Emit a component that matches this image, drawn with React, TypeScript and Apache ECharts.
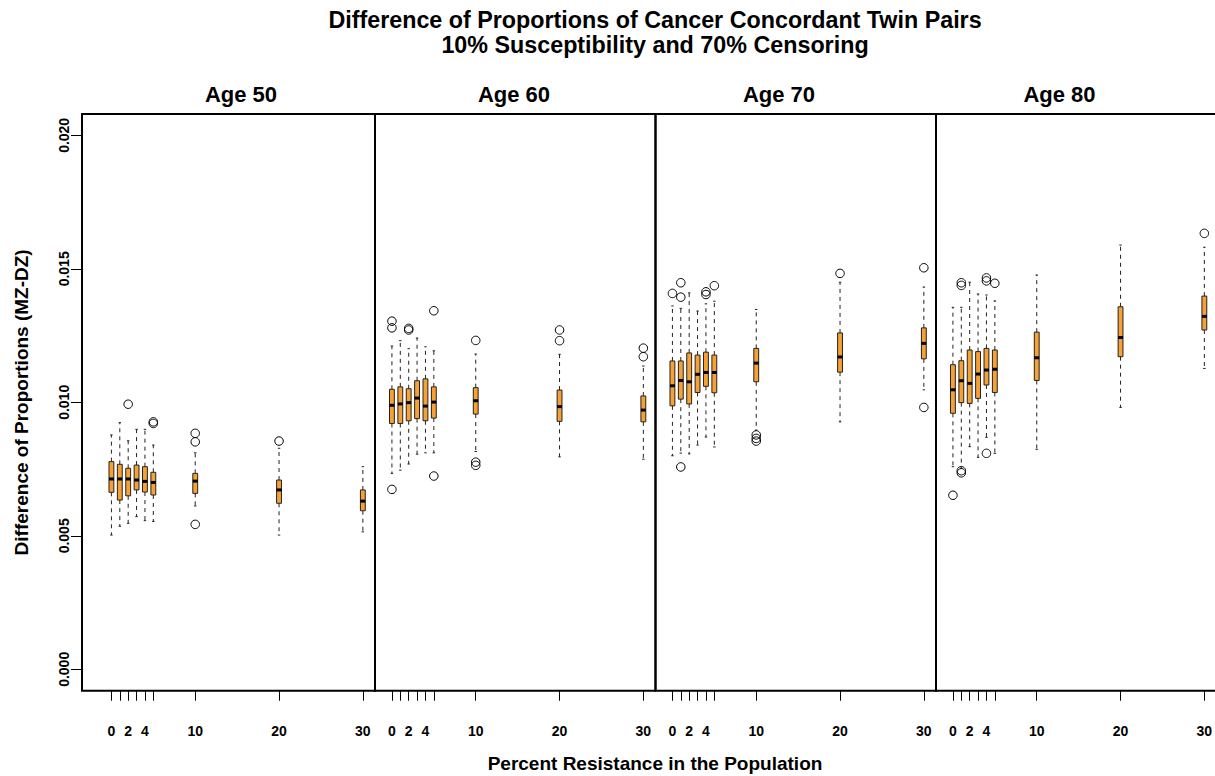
import React, { useEffect, useRef } from "react";
import * as echarts from "echarts";

// ---------- data ----------
const positions = [0, 1, 2, 3, 4, 5, 10, 20, 30];
const xTickValues = [0, 1, 2, 3, 4, 5, 10, 20, 30];
const xLabelValues = [0, 2, 4, 10, 20, 30];
const yTickValues = [0, 0.005, 0.01, 0.015, 0.02];
const panelNames = ["Age 50", "Age 60", "Age 70", "Age 80"];

// [lower whisker, Q1, median, Q3, upper whisker] per position
const age50Stats = [
  [0.00503, 0.00663, 0.00713, 0.00778, 0.00878],
  [0.00536, 0.00634, 0.00713, 0.00768, 0.00924],
  [0.00547, 0.0065, 0.00713, 0.00753, 0.00856],
  [0.00572, 0.00672, 0.00709, 0.00765, 0.00899],
  [0.00557, 0.00664, 0.00704, 0.00759, 0.00899],
  [0.00554, 0.00653, 0.007, 0.00738, 0.0084],
  [0.00612, 0.00659, 0.00705, 0.00734, 0.00811],
  [0.00503, 0.00622, 0.00672, 0.00709, 0.00828],
  [0.00515, 0.00594, 0.0063, 0.00672, 0.00759],
];
const age60Stats = [
  [0.00734, 0.00921, 0.00989, 0.01049, 0.01211],
  [0.00746, 0.00921, 0.00994, 0.01058, 0.01231],
  [0.00769, 0.00931, 0.00999, 0.01051, 0.01201],
  [0.00806, 0.00939, 0.01016, 0.01081, 0.01241],
  [0.00811, 0.00931, 0.00986, 0.01088, 0.01208],
  [0.00811, 0.00941, 0.01001, 0.01058, 0.01193],
  [0.00816, 0.00956, 0.01006, 0.01055, 0.01181],
  [0.00796, 0.00929, 0.00984, 0.01046, 0.0118],
  [0.00787, 0.00927, 0.00971, 0.01024, 0.01136],
];
const age70Stats = [
  [0.008, 0.00987, 0.01062, 0.01155, 0.01361],
  [0.0081, 0.01012, 0.01082, 0.01155, 0.01352],
  [0.00807, 0.00994, 0.01077, 0.01185, 0.0141],
  [0.0084, 0.01037, 0.01105, 0.01177, 0.01342],
  [0.0087, 0.0106, 0.01112, 0.01188, 0.01369],
  [0.00833, 0.01036, 0.01112, 0.01177, 0.01379],
  [0.00896, 0.01077, 0.01147, 0.01202, 0.01348],
  [0.00927, 0.01113, 0.0117, 0.0126, 0.0145],
  [0.01047, 0.01163, 0.01221, 0.01279, 0.01432],
];
const age80Stats = [
  [0.00759, 0.00959, 0.01047, 0.01141, 0.01356],
  [0.00753, 0.00999, 0.01081, 0.01156, 0.01356],
  [0.00834, 0.00996, 0.01071, 0.01196, 0.0145],
  [0.00794, 0.01015, 0.01106, 0.0119, 0.01406],
  [0.00869, 0.01065, 0.01121, 0.01202, 0.01402],
  [0.00809, 0.01037, 0.01124, 0.01196, 0.0138],
  [0.00824, 0.01082, 0.01167, 0.01263, 0.01477],
  [0.00981, 0.01171, 0.01243, 0.01358, 0.01589],
  [0.01127, 0.01271, 0.01322, 0.01398, 0.01581],
];

// [position, value]
const age50Outliers = [
  [2, 0.00993], [5, 0.00927], [5, 0.00921], [10, 0.00884], [10, 0.00852], [10, 0.00543], [20, 0.00855],
];
const age60Outliers = [
  [0, 0.01304], [0, 0.01279], [0, 0.00674], [2, 0.01277], [2, 0.01271], [5, 0.01343], [5, 0.00724],
  [10, 0.01232], [10, 0.00776], [10, 0.00764], [20, 0.01271], [20, 0.01231], [30, 0.01203], [30, 0.01171],
];
const age70Outliers = [
  [0, 0.01408], [1, 0.01448], [1, 0.01394], [1, 0.00758], [4, 0.01414], [4, 0.01404], [5, 0.01437],
  [10, 0.00878], [10, 0.00865], [10, 0.00855], [20, 0.01483], [30, 0.01504], [30, 0.00981],
];
const age80Outliers = [
  [0, 0.00652], [1, 0.01448], [1, 0.01438], [1, 0.00744], [1, 0.00736], [4, 0.01466], [4, 0.01455],
  [4, 0.00809], [5, 0.01446], [30, 0.01633],
];

const allStats = [age50Stats, age60Stats, age70Stats, age80Stats];
const allOutliers = [age50Outliers, age60Outliers, age70Outliers, age80Outliers];

// ---------- layout / style ----------
const FONT = "'Liberation Sans', Arial, Helvetica, sans-serif";
const BOX_FILL = "#F7A033";
const BOX_WIDTH = 0.58;
const gridLefts = [82, 375, 655.5, 936];
const gridWidths = [293, 280.5, 280.5, 280.5];
const xMins = [-3.51, -2.02, -2.02, -2.02];
const X_MAX = 31.45;
const Y_MIN = -0.0008;
const Y_MAX = 0.0208;
const GRID_TOP = 114;
const GRID_HEIGHT = 576.7;
const panelLabelX = [241, 514, 779, 1059.5];

const renderBox = (params: any, api: any) => {
  const x = api.value(0);
  const pLo = api.coord([x, api.value(1)]);
  const pQ1 = api.coord([x, api.value(2)]);
  const pMd = api.coord([x, api.value(3)]);
  const pQ3 = api.coord([x, api.value(4)]);
  const pHi = api.coord([x, api.value(5)]);
  const w = api.size([BOX_WIDTH, 0])[0];
  const cx = pMd[0];
  const half = w / 2;
  const sh = w / 4;
  const ls = { stroke: "#222", lineWidth: 1 };
  return {
    type: "group",
    children: [
      { type: "line", shape: { x1: cx, y1: pQ3[1], x2: cx, y2: pHi[1] }, style: { ...ls, lineDash: [4, 4] } },
      { type: "line", shape: { x1: cx, y1: pQ1[1], x2: cx, y2: pLo[1] }, style: { ...ls, lineDash: [4, 4] } },
      { type: "line", shape: { x1: cx - sh, y1: pHi[1], x2: cx + sh, y2: pHi[1] }, style: ls },
      { type: "line", shape: { x1: cx - sh, y1: pLo[1], x2: cx + sh, y2: pLo[1] }, style: ls },
      {
        type: "rect",
        shape: { x: cx - half, y: pQ3[1], width: w, height: pQ1[1] - pQ3[1] },
        style: { fill: BOX_FILL, stroke: "#222", lineWidth: 1 },
      },
      { type: "line", shape: { x1: cx - half, y1: pMd[1], x2: cx + half, y2: pMd[1] }, style: { stroke: "#000", lineWidth: 3 } },
    ],
  };
};

function buildOption() {
  const grids = gridLefts.map((l, i) => ({
    left: l,
    top: GRID_TOP,
    width: gridWidths[i],
    height: GRID_HEIGHT,
    show: true,
    borderColor: "#000",
    borderWidth: 2,
    backgroundColor: "transparent",
    containLabel: false,
    outerBoundsMode: "none",
  }));
  const xAxes = gridLefts.map((_, i) => ({
    type: "value",
    gridIndex: i,
    position: "bottom",
    min: xMins[i],
    max: X_MAX,
    axisLine: { show: false, onZero: false },
    splitLine: { show: false },
    axisTick: { show: true, inside: false, length: 10, customValues: xTickValues, lineStyle: { color: "#000", width: 1 } },
    axisLabel: {
      show: true,
      customValues: xLabelValues,
      margin: 33,
      fontSize: 14,
      lineHeight: 14,
      fontWeight: "bold",
      color: "#000",
      fontFamily: FONT,
      formatter: (v: number) => String(v),
    },
  }));
  const yAxes = gridLefts.map((_, i) =>
    i === 0
      ? {
          type: "value",
          gridIndex: 0,
          position: "left",
          min: Y_MIN,
          max: Y_MAX,
          axisLine: { show: false, onZero: false },
          splitLine: { show: false },
          axisTick: { show: true, inside: false, length: 11, customValues: yTickValues, lineStyle: { color: "#000", width: 1 } },
          axisLabel: {
            show: true,
            customValues: yTickValues,
            rotate: 90,
            margin: 11,
            fontSize: 14,
            lineHeight: 14,
            fontWeight: "bold",
            color: "#000",
            fontFamily: FONT,
            formatter: (v: number) => v.toFixed(3),
          },
          name: "Difference of Proportions (MZ-DZ)",
          nameLocation: "middle",
          nameRotate: 90,
          nameGap: 51,
          nameTextStyle: { fontSize: 19, fontWeight: "bold", color: "#000", fontFamily: FONT, lineHeight: 19 },
        }
      : { type: "value", gridIndex: i, min: Y_MIN, max: Y_MAX, show: false, axisLine: { onZero: false }, splitLine: { show: false } }
  );
  const series: any[] = [];
  allStats.forEach((stats, i) => {
    series.push({
      type: "custom",
      name: panelNames[i],
      xAxisIndex: i,
      yAxisIndex: i,
      data: stats.map((s, j) => [positions[j], ...s]),
      encode: { x: 0, y: [1, 2, 3, 4, 5] },
      renderItem: renderBox,
      z: 2,
      silent: true,
    });
    series.push({
      type: "scatter",
      name: panelNames[i] + " outliers",
      xAxisIndex: i,
      yAxisIndex: i,
      data: allOutliers[i],
      symbol: "circle",
      symbolSize: 8.5,
      itemStyle: { color: "rgba(255,255,255,0)", borderColor: "#000", borderWidth: 1, opacity: 1 },
      z: 3,
      silent: true,
    });
  });
  const titles: any[] = [
    {
      text: "Difference of Proportions of Cancer Concordant Twin Pairs\n10% Susceptibility and 70% Censoring",
      left: 655,
      top: 7.5,
      textAlign: "center",
      padding: 0,
      textStyle: { fontSize: 23.3, fontWeight: "bold", lineHeight: 25, color: "#000", fontFamily: FONT },
    },
    ...panelNames.map((n, i) => ({
      text: n,
      left: panelLabelX[i],
      top: 83,
      textAlign: "center",
      padding: 0,
      textStyle: { fontSize: 22, fontWeight: "bold", lineHeight: 22, color: "#000", fontFamily: FONT },
    })),
    {
      text: "Percent Resistance in the Population",
      left: 655,
      top: 753.5,
      textAlign: "center",
      padding: 0,
      textStyle: { fontSize: 19, fontWeight: "bold", lineHeight: 19, color: "#000", fontFamily: FONT },
    },
  ];
  return {
    animation: false,
    backgroundColor: "#fff",
    title: titles,
    grid: grids,
    xAxis: xAxes,
    yAxis: yAxes,
    series,
  };
}

export default function App() {
  const ref = useRef<HTMLDivElement>(null);
  useEffect(() => {
    if (!ref.current) return;
    const chart = echarts.init(ref.current, undefined, { renderer: "svg" });
    chart.setOption(buildOption() as any);
    return () => chart.dispose();
  }, []);
  return (
    <div
      ref={ref}
      style={{ position: "fixed", left: 0, top: 0, width: 1215, height: 776, background: "#fff" }}
    />
  );
}
